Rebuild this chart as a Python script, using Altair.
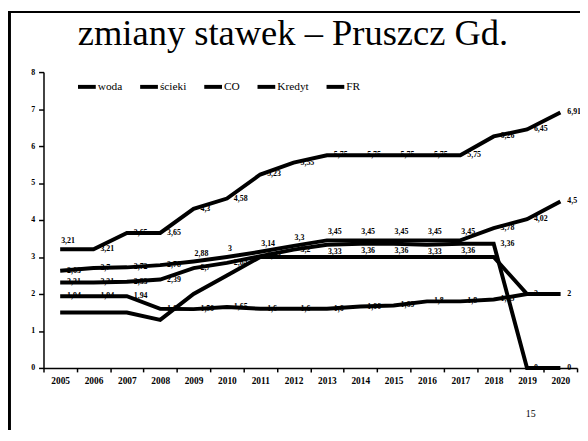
import altair as alt
import pandas as pd

title_text = "zmiany stawek – Pruszcz Gd."
page_no = "15"
years = list(range(2005, 2021))
series = ["woda", "ścieki", "CO", "Kredyt", "FR"]
woda = [3.21, 3.21, 3.65, 3.65, 4.3, 4.58, 5.23, 5.55, 5.75, 5.75, 5.75, 5.75, 5.75, 6.26, 6.45, 6.91]
scieki = [2.63, 2.7, 2.72, 2.78, 2.88, 3.0, 3.14, 3.3, 3.45, 3.45, 3.45, 3.45, 3.45, 3.78, 4.02, 4.5]
co = [1.94, 1.94, 1.94, 1.6, 1.59, 1.65, 1.6, 1.6, 1.6, 1.66, 1.69, 1.8, 1.8, 1.85, 2, 2]
kredyt = [2.31, 2.31, 2.33, 2.39, 2.7, 2.84, 3.02, 3.2, 3.33, 3.36, 3.36, 3.33, 3.36, 3.36, 0, 0]
fr = [1.5, 1.5, 1.5, 1.3, 2.0, 2.5, 3.0, 3.0, 3.0, 3.0, 3.0, 3.0, 3.0, 3.0, 2.0, 2.0]
labelled = ["woda", "ścieki", "CO", "Kredyt"]
y_ticks = [0, 1, 2, 3, 4, 5, 6, 7, 8]
# label placement exceptions (default: right of the point)
labels_above = [("woda", 2005), ("ścieki", 2009), ("ścieki", 2010), ("ścieki", 2011),
                ("ścieki", 2012), ("ścieki", 2013), ("ścieki", 2014),
                ("ścieki", 2015), ("ścieki", 2016), ("ścieki", 2017)]
labels_below = [("Kredyt", 2013), ("Kredyt", 2014), ("Kredyt", 2015),
                ("Kredyt", 2016), ("Kredyt", 2017)]


def fmt(v):
    s = f"{v:.2f}".rstrip("0").rstrip(".")
    return s.replace(".", ",")


rows = []
for name, vals in zip(series, [woda, scieki, co, kredyt, fr]):
    for yr, v in zip(years, vals):
        pos = "right"
        if (name, yr) in labels_above:
            pos = "above"
        elif (name, yr) in labels_below:
            pos = "below"
        rows.append({"series": name, "year": yr, "value": v, "label": fmt(v), "pos": pos})
df = pd.DataFrame(rows)

SERIF = "Liberation Serif"

xscale = alt.Scale(domain=[2004.5, 2020.5], nice=False, zero=False)
yscale = alt.Scale(domain=[0, 8], nice=False)

yaxis = alt.Axis(orient="left", values=y_ticks, tickSize=5, tickColor="black", tickWidth=1.5,
                 domainColor="black", domainWidth=1.5, labelFont=SERIF,
                 labelFontSize=8, labelFontWeight="bold", labelColor="black",
                 labelPadding=4, grid=False, title=None)

x_tick_axis = alt.Axis(orient="bottom", values=[2004.5 + k for k in range(17)], labels=False,
                       tickSize=4, tickColor="black", tickWidth=1.5,
                       domainColor="black", domainWidth=1.5, grid=False, title=None)

x_label_axis = alt.Axis(orient="bottom", values=years, format="d", tickSize=0, domain=False,
                        labelFont=SERIF, labelFontSize=9.5, labelFontWeight="bold",
                        labelColor="black", labelPadding=8, grid=False, title=None)

base = alt.Chart(df)

lines = base.mark_line(strokeJoin="miter").encode(
    x=alt.X("year:Q", scale=xscale, axis=x_tick_axis),
    y=alt.Y("value:Q", scale=yscale, axis=yaxis),
    color=alt.Color("series:N", scale=alt.Scale(domain=series, range=["black"] * 5),
                    legend=alt.Legend(title=None, orient="none", legendX=30, legendY=4,
                                      direction="horizontal", symbolType="stroke",
                                      symbolSize=324, symbolStrokeWidth=3, symbolOffset=3,
                                      labelFont=SERIF, labelFontSize=11.5,
                                      labelColor="black", labelOffset=0,
                                      columnPadding=10, padding=0, gridAlign="none")),
    strokeWidth=alt.StrokeWidth("series:N",
                                scale=alt.Scale(domain=series, range=[4, 4, 4, 4, 2]),
                                legend=None),
    order=alt.Order("year:Q"),
)

label_base = base.transform_filter(
    alt.FieldOneOfPredicate(field="series", oneOf=labelled)
)
text_style = dict(font=SERIF, fontSize=8, fontWeight="bold", color="black")

texts_right = label_base.transform_filter(alt.datum.pos == "right").mark_text(
    align="left", baseline="middle", dx=7, **text_style).encode(
    x=alt.X("year:Q", scale=xscale, axis=x_label_axis),
    y=alt.Y("value:Q", scale=yscale, axis=yaxis),
    text="label:N",
)
texts_above = label_base.transform_filter(alt.datum.pos == "above").mark_text(
    align="left", baseline="bottom", dx=1, dy=-4, **text_style).encode(
    x=alt.X("year:Q", scale=xscale, axis=None),
    y=alt.Y("value:Q", scale=yscale, axis=yaxis), text="label:N")
texts_below = label_base.transform_filter(alt.datum.pos == "below").mark_text(
    align="left", baseline="top", dx=1, dy=3, **text_style).encode(
    x=alt.X("year:Q", scale=xscale, axis=None),
    y=alt.Y("value:Q", scale=yscale, axis=yaxis), text="label:N")

title = alt.Chart(pd.DataFrame({"t": [title_text]})).mark_text(
    align="center", baseline="alphabetic", font=SERIF, fontSize=37, color="black"
).encode(x=alt.value(253), y=alt.value(-27), text="t:N")

page = alt.Chart(pd.DataFrame({"t": [page_no]})).mark_text(
    align="center", baseline="middle", font=SERIF, fontSize=10, color="black"
).encode(x=alt.value(494), y=alt.value(347), text="t:N")

frame_df = pd.DataFrame({"k": [0]})
left_border = alt.Chart(frame_df).mark_rule(color="black", strokeWidth=3).encode(
    x=alt.value(-34.5), y=alt.value(-62), y2=alt.value(363))
top_border = alt.Chart(frame_df).mark_rule(color="black", strokeWidth=2).encode(
    x=alt.value(-36), x2=alt.value(544), y=alt.value(-61))

chart = alt.layer(texts_right, texts_above, texts_below, lines, title, page,
                  left_border, top_border).resolve_axis(
    x="independent"
).properties(
    width=541, height=300,
    autosize=alt.AutoSizeParams(type="none"),
    padding={"left": 36, "top": 62, "right": 3, "bottom": 63},
    background="white",
).configure_view(stroke=None)

chart.save("out.html", embed_options={"renderer": "svg", "actions": False})
